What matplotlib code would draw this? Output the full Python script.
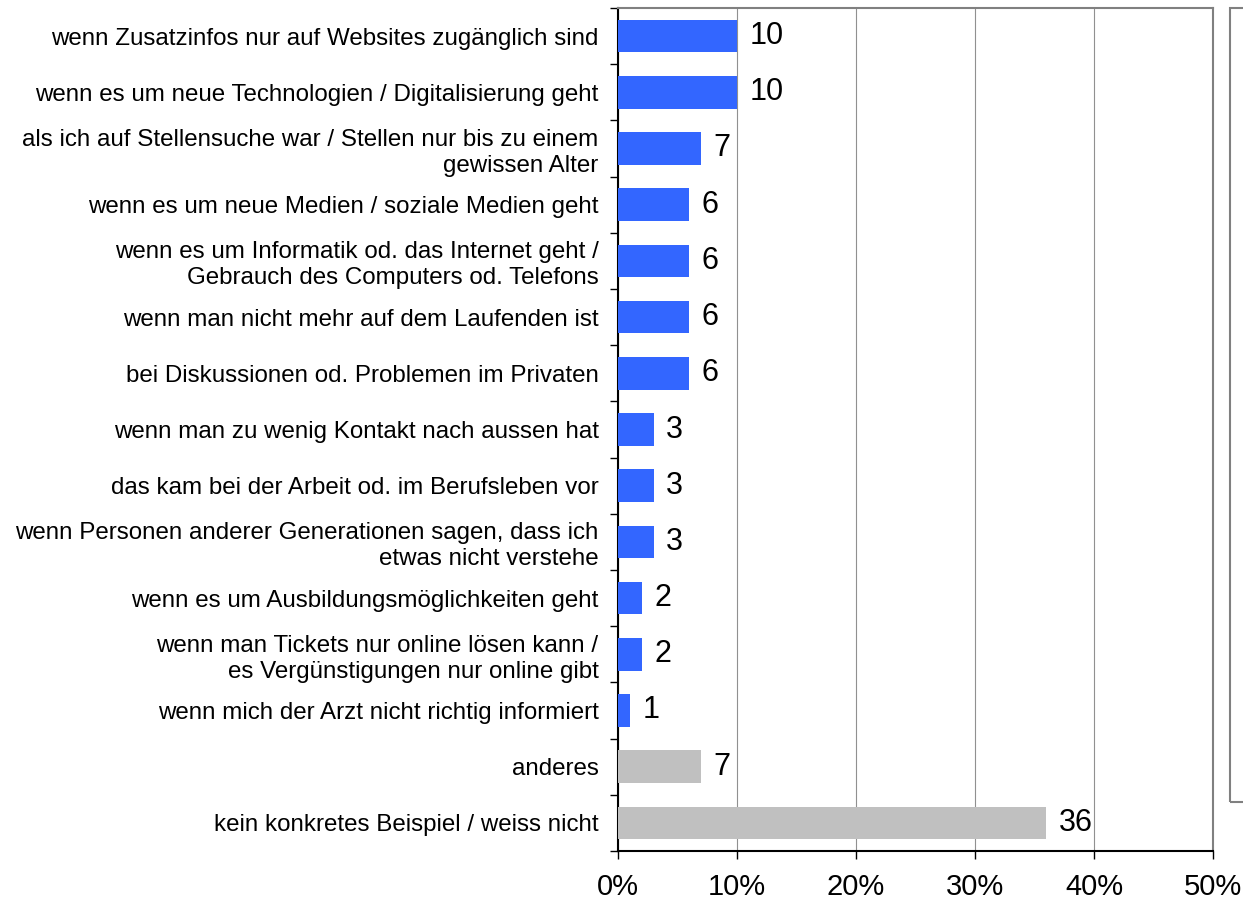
import matplotlib.pyplot as plt
from matplotlib.patches import Rectangle

plt.rcParams['font.family'] = ['Liberation Sans', 'DejaVu Sans']

categories = [
    "wenn Zusatzinfos nur auf Websites zugänglich sind",
    "wenn es um neue Technologien / Digitalisierung geht",
    "als ich auf Stellensuche war / Stellen nur bis zu einem\ngewissen Alter",
    "wenn es um neue Medien / soziale Medien geht",
    "wenn es um Informatik od. das Internet geht /\nGebrauch des Computers od. Telefons",
    "wenn man nicht mehr auf dem Laufenden ist",
    "bei Diskussionen od. Problemen im Privaten",
    "wenn man zu wenig Kontakt nach aussen hat",
    "das kam bei der Arbeit od. im Berufsleben vor",
    "wenn Personen anderer Generationen sagen, dass ich\netwas nicht verstehe",
    "wenn es um Ausbildungsmöglichkeiten geht",
    "wenn man Tickets nur online lösen kann /\nes Vergünstigungen nur online gibt",
    "wenn mich der Arzt nicht richtig informiert",
    "anderes",
    "kein konkretes Beispiel / weiss nicht",
]
values = [10, 10, 7, 6, 6, 6, 6, 3, 3, 3, 2, 2, 1, 7, 36]
colors = ["#3366FF"] * 13 + ["#C0C0C0"] * 2
xticks = [0, 10, 20, 30, 40, 50]
xtick_labels = ["0%", "10%", "20%", "30%", "40%", "50%"]

fig = plt.figure(figsize=(12.43, 9), dpi=100)
ax = fig.add_axes([618 / 1243, 1 - 851 / 900, (1213 - 618) / 1243, (851 - 8) / 900])

n = len(categories)
ypos = list(range(n))
ax.barh(ypos, values, height=0.58, color=colors, zorder=3)
ax.set_ylim(n - 0.5, -0.5)
ax.set_xlim(0, 50)

for y, v in zip(ypos, values):
    ax.annotate(str(v), (v, y), xytext=(9, 0), textcoords='offset points',
                va='center', ha='left', fontsize=22, color='black')

ax.set_xticks(xticks)
ax.set_xticklabels(xtick_labels, fontsize=21)
ax.xaxis.grid(True, color='#909090', linewidth=0.8, zorder=0)

# category ticks at the boundaries, labels centred on the bars
ax.set_yticks([i - 0.5 for i in range(n + 1)])
ax.set_yticklabels([])
ax.set_yticks(ypos, minor=True)
ax.set_yticklabels(categories, minor=True, fontsize=17.4, ha='right',
                   multialignment='right', linespacing=1.22)
ax.tick_params(axis='y', which='minor', length=0, pad=14)
ax.tick_params(axis='y', which='major', length=6, width=1, color='black')
ax.tick_params(axis='x', length=6, width=1, color='black', pad=10)

ax.spines['left'].set_color('black')
ax.spines['bottom'].set_color('black')
ax.spines['left'].set_linewidth(1.5)
ax.spines['bottom'].set_linewidth(1.5)
ax.spines['top'].set_color('#808080')
ax.spines['right'].set_color('#808080')
ax.spines['top'].set_linewidth(1.5)
ax.spines['right'].set_linewidth(1.5)

# empty legend box at the right edge
fig.add_artist(Rectangle((1230 / 1243, 1 - 802 / 900), 30 / 1243, (802 - 8) / 900,
                         transform=fig.transFigure, fill=False,
                         edgecolor='#808080', linewidth=1.5))

fig.savefig("out.png", dpi=100)
